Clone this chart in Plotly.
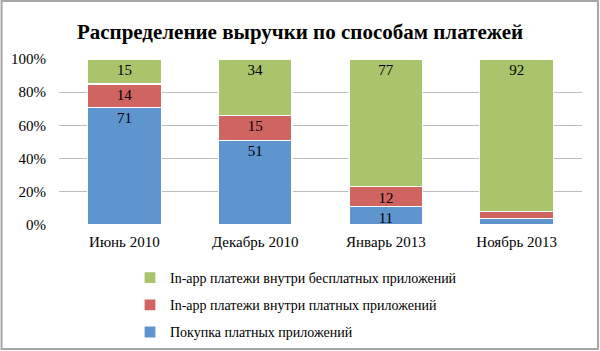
import plotly.graph_objects as go

categories = ["Июнь 2010", "Декабрь 2010", "Январь 2013", "Ноябрь 2013"]
purchase = [71, 51, 11, 4]
inapp_paid = [14, 15, 12, 4]
inapp_free = [15, 34, 77, 92]
purchase_labels = ["71", "51", "11", ""]
paid_labels = ["14", "15", "12", ""]
free_labels = ["15", "34", "77", "92"]
y_ticks = [0, 20, 40, 60, 80, 100]
y_tick_labels = ["0%", "20%", "40%", "60%", "80%", "100%"]

W, H = 600, 351
L, R, T, B = 58.5, 18, 59, 126
SERIF = "Liberation Serif, DejaVu Serif, serif"

fig = go.Figure()
series = [
    ("Покупка платных приложений", purchase, purchase_labels, "#5E95CF"),
    ("In-app платежи внутри платных приложений", inapp_paid, paid_labels, "#CF6461"),
    ("In-app платежи внутри бесплатных приложений", inapp_free, free_labels, "#A9C46A"),
]
for i, (name, vals, labels, color) in enumerate(series):
    fig.add_trace(go.Bar(
        x=categories, y=vals, name=name, text=labels,
        textposition="inside", insidetextanchor="end", constraintext="none",
        textangle=0,
        textfont=dict(family=SERIF, size=15, color="#000000"),
        marker=dict(color=color, line=dict(color="#FFFFFF", width=1.2)),
        legendgroup=str(i), legendrank=1000 - i, hoverinfo="skip",
    ))

pw = W - L - R
ph = H - T - B
fig.update_layout(
    width=W, height=H,
    margin=dict(l=L, r=R, t=T, b=B, pad=0, autoexpand=False),
    barmode="stack", bargap=0.435,
    plot_bgcolor="#FFFFFF", paper_bgcolor="#FFFFFF",
    title=dict(text="<b>Распределение выручки по способам платежей</b>",
               x=0.5, xref="container", xanchor="center", y=1 - 32 / H, yanchor="middle",
               font=dict(family=SERIF, size=21, color="#000000")),
    font=dict(family=SERIF, size=15, color="#000000"),
    xaxis=dict(showgrid=False, showline=False, ticks="", tickfont=dict(size=15),
               tickangle=0, automargin=False, ticklabelstandoff=6),
    yaxis=dict(range=[0, 100], tickvals=y_ticks, ticktext=y_tick_labels, showgrid=True,
               gridcolor="#BDBDBD", gridwidth=1, showline=False, zeroline=False,
               ticks="", ticklen=0, tickfont=dict(size=15), automargin=False,
               ticklabelstandoff=12),
    legend=dict(orientation="v", traceorder="grouped", xref="container", yref="container",
                x=130 / W, xanchor="left", y=1 - 262 / H, yanchor="top",
                font=dict(family=SERIF, size=14), tracegroupgap=6,
                bgcolor="rgba(0,0,0,0)"),
    showlegend=True,
    shapes=[dict(type="rect", xref="paper", yref="paper",
                 x0=-(L - 1) / pw, x1=1 + (R - 2) / pw,
                 y0=-(B - 2) / ph, y1=1 + (T - 1) / ph,
                 line=dict(color="#A6A6A6", width=2), fillcolor="rgba(0,0,0,0)", layer="below")],
)

fig.write_html("out.html")
